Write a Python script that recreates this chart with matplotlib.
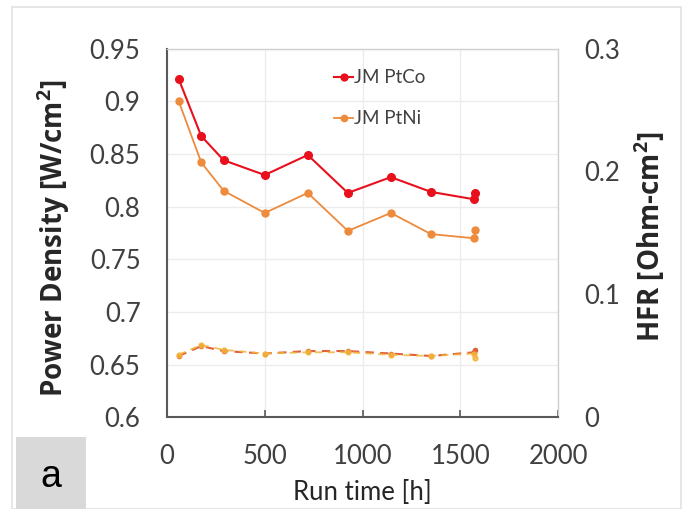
import matplotlib
matplotlib.use("Agg")
import matplotlib.pyplot as plt
from matplotlib.patches import Rectangle

plt.rcParams['font.family'] = ['Lato', 'DejaVu Sans']

# data
run_time = [60, 175, 290, 500, 720, 925, 1145, 1350, 1570, 1575]
pd_ptco = [0.921, 0.867, 0.844, 0.830, 0.849, 0.813, 0.828, 0.814, 0.807, 0.813]
pd_ptni = [0.900, 0.842, 0.815, 0.794, 0.813, 0.777, 0.794, 0.774, 0.770, 0.778]
hfr_ptco = [0.050, 0.058, 0.054, 0.052, 0.054, 0.054, 0.052, 0.050, 0.053, 0.055]
hfr_ptni = [0.051, 0.059, 0.055, 0.052, 0.053, 0.053, 0.051, 0.050, 0.052, 0.048]

x_ticks = [0, 500, 1000, 1500, 2000]
y_ticks = [0.6, 0.65, 0.7, 0.75, 0.8, 0.85, 0.9, 0.95]
y_labels = ['0.6', '0.65', '0.7', '0.75', '0.8', '0.85', '0.9', '0.95']
hfr_ticks = [0, 0.1, 0.2, 0.3]
hfr_labels = ['0', '0.1', '0.2', '0.3']

red = '#e8101c'
orange = '#ed8a3c'
tick_col = '#404040'
label_font = dict(family='Open Sans', fontweight='bold', fontsize=20,
                  color='#262626')

fig = plt.figure(figsize=(6.83, 5.09), dpi=100)
ax = fig.add_axes([0.2445, 0.1798, 0.5725, 0.7249])

# outer frame and panel tag
fig.patches.append(Rectangle((12 / 683, 0), 669 / 683, 1 - 7 / 509,
                             transform=fig.transFigure, fill=False,
                             edgecolor='#e2e2e2', lw=1.2, zorder=0))
fig.patches.append(Rectangle((16 / 683, 0), 70 / 683, 72 / 509,
                             transform=fig.transFigure, facecolor='#d9d9d9',
                             edgecolor='none', zorder=1))
fig.text(51 / 683, 32 / 509, 'a', ha='center', va='center', fontsize=27,
         family='Liberation Sans', color='black')

ax.plot(run_time, pd_ptco, '-o', color=red, lw=1.5, ms=5.5, label='JM PtCo',
        zorder=4)
ax.plot(run_time, pd_ptni, '-o', color=orange, lw=1.3, ms=5, label='JM PtNi',
        zorder=3)

ax.set_xlim(0, 2000)
ax.set_ylim(0.6, 0.95)
ax.set_xticks(x_ticks)
ax.set_yticks(y_ticks)
ax.set_yticklabels(y_labels)
ax.grid(True, color='#ececec', lw=1)
ax.set_axisbelow(True)
ax.tick_params(axis='y', length=0, pad=19, labelsize=18.5, labelcolor=tick_col)
ax.tick_params(axis='x', direction='in', length=5, width=1.2,
               color='#595959', pad=19, labelsize=18.5, labelcolor=tick_col)
for side in ['left', 'bottom']:
    ax.spines[side].set_color('#595959')
    ax.spines[side].set_linewidth(1.5)
for side in ['top', 'right']:
    ax.spines[side].set_color('#d0d0d0')
    ax.spines[side].set_linewidth(1)

ax.set_ylabel('Power Density [W/cm$^\\mathregular{2}$]', **label_font)
ax.yaxis.set_label_coords(-0.243, 0.485)
ax.set_xlabel('Run time [h]', fontsize=18.5, color='#262626')
ax.xaxis.set_label_coords(0.5, -0.17)

ax2 = ax.twinx()
ax2.plot(run_time, hfr_ptco, '--o', color='#e0603a', lw=1.5, ms=3,
         dashes=(4, 3))
ax2.plot(run_time, hfr_ptni, '--o', color='#f2b43a', lw=1.3, ms=3.5,
         dashes=(4, 3), alpha=0.85)
ax2.set_ylim(0, 0.3)
ax2.set_yticks(hfr_ticks)
ax2.set_yticklabels(hfr_labels)
ax2.tick_params(axis='y', length=0, pad=19, labelsize=18.5, labelcolor=tick_col)
for side in ax2.spines:
    ax2.spines[side].set_visible(False)
ax2.set_ylabel('HFR [Ohm-cm$^\\mathregular{2}$]', **label_font)
ax2.yaxis.set_label_coords(1.19, 0.49)

ax.legend(loc='upper left', bbox_to_anchor=(0.385, 0.99), frameon=False,
          fontsize=13.5, labelcolor='#404040', handlelength=1.0,
          handletextpad=0.05, labelspacing=1.3, markerscale=0.9)

fig.savefig('out.png', dpi=100)
